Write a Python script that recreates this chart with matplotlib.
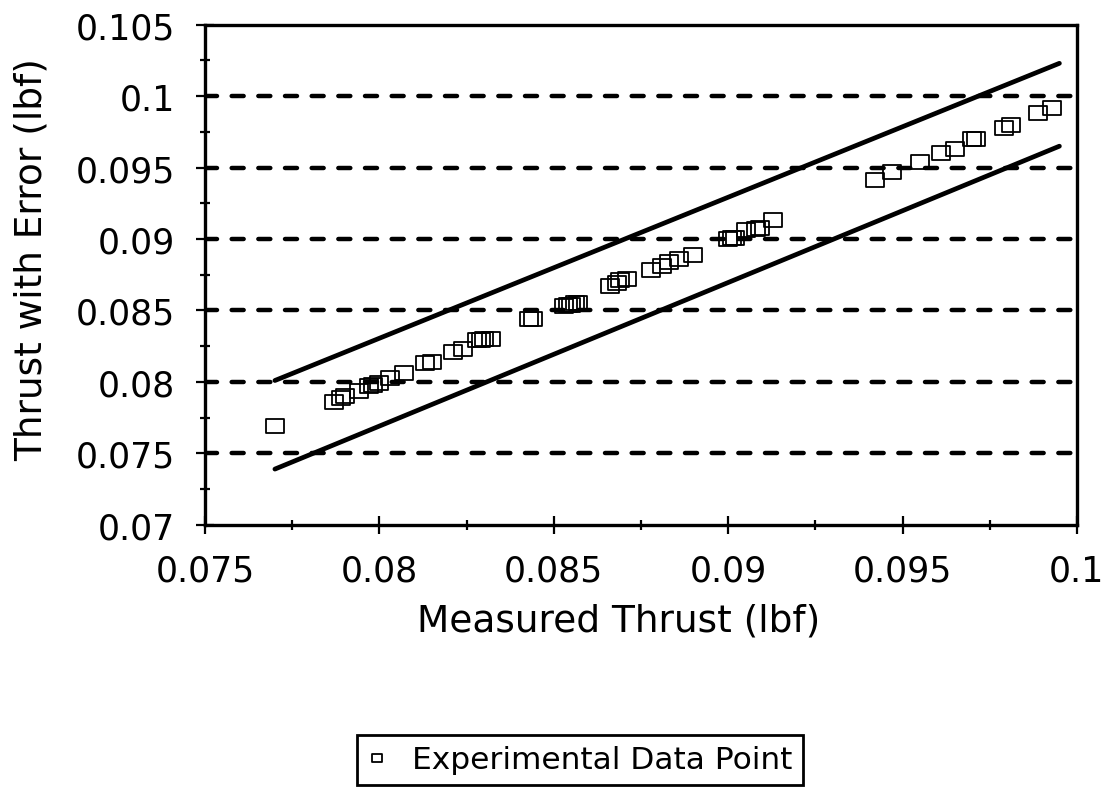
import numpy as np
import matplotlib
matplotlib.use("Agg")
import matplotlib.pyplot as plt
from matplotlib.path import Path
from matplotlib.ticker import MultipleLocator, FuncFormatter

# measured thrust vs thrust with error (lbf)
measured = [0.0770, 0.0787, 0.0789, 0.0790, 0.0794, 0.0797, 0.0798, 0.0800,
            0.0803, 0.0807, 0.0813, 0.0815, 0.0821, 0.0824, 0.0828, 0.0829,
            0.0830, 0.0832, 0.0843, 0.0844, 0.0853, 0.0854, 0.0855, 0.0856,
            0.0857, 0.0866, 0.0868, 0.0869, 0.0871, 0.0878, 0.0881, 0.0883,
            0.0886, 0.0890, 0.0900, 0.0901, 0.0902, 0.0905, 0.0908, 0.0909,
            0.0913, 0.0942, 0.0947, 0.0955, 0.0961, 0.0965, 0.0970, 0.0971,
            0.0979, 0.0981, 0.0989, 0.0993]
with_error = [0.0769, 0.0786, 0.0789, 0.0790, 0.0794, 0.0797, 0.0798, 0.0799,
              0.0803, 0.0806, 0.0813, 0.0814, 0.0821, 0.0823, 0.0829, 0.0829,
              0.0830, 0.0830, 0.0844, 0.0844, 0.0853, 0.0854, 0.0854, 0.0855,
              0.0855, 0.0867, 0.0869, 0.0871, 0.0872, 0.0878, 0.0881, 0.0884,
              0.0886, 0.0889, 0.0900, 0.0901, 0.0901, 0.0906, 0.0907, 0.0908,
              0.0913, 0.0941, 0.0947, 0.0954, 0.0960, 0.0963, 0.0970, 0.0970,
              0.0978, 0.0980, 0.0988, 0.0992]

# error band limits
band_x = [0.0770, 0.0995]
band_upper = [0.0801, 0.1023]
band_lower = [0.0739, 0.0965]

grid_levels = [0.075, 0.08, 0.085, 0.09, 0.095, 0.1]

plt.rcParams['font.family'] = ['DejaVu Sans']

fig = plt.figure(figsize=(11.09, 8.04), dpi=100)
ax = fig.add_axes([0.185, 0.346, 0.786, 0.622])

# dashed horizontal grid
for g in grid_levels:
    ax.axhline(g, color='black', lw=3.2, dashes=(2.7, 3.3), dash_capstyle='round',
               zorder=1)

ax.plot(band_x, band_upper, color='black', lw=3.4, solid_capstyle='round', zorder=2)
ax.plot(band_x, band_lower, color='black', lw=3.4, solid_capstyle='round', zorder=2)

# slightly wide open square marker
rect = Path([(-1, -0.75), (1, -0.75), (1, 0.75), (-1, 0.75), (-1, -0.75)],
            [Path.MOVETO, Path.LINETO, Path.LINETO, Path.LINETO, Path.CLOSEPOLY])
ax.plot(measured, with_error, linestyle='none', marker=rect, markersize=13,
        markerfacecolor='none', markeredgecolor='black', markeredgewidth=1.3,
        label='Experimental Data Point', zorder=3)

ax.set_xlim(0.075, 0.1)
ax.set_ylim(0.07, 0.105)
ax.xaxis.set_major_locator(MultipleLocator(0.005))
ax.xaxis.set_minor_locator(MultipleLocator(0.0025))
ax.yaxis.set_major_locator(MultipleLocator(0.005))
ax.yaxis.set_minor_locator(MultipleLocator(0.0025))
fmt = FuncFormatter(lambda v, p: ('%.3f' % v).rstrip('0').rstrip('.'))
ax.xaxis.set_major_formatter(fmt)
ax.yaxis.set_major_formatter(fmt)

ax.tick_params(which='major', direction='inout', length=13, width=1.6,
               labelsize=25)
ax.tick_params(which='minor', direction='inout', length=7, width=1.6)
ax.tick_params(axis='x', pad=14)
ax.tick_params(axis='y', pad=15)

for s in ['left', 'bottom', 'right', 'top']:
    ax.spines[s].set_linewidth(2.4)

ax.set_xlabel('Measured Thrust (lbf)', fontsize=27, labelpad=12)
ax.set_ylabel('Thrust with Error (lbf)', fontsize=27, labelpad=14)
ax.xaxis.set_label_coords(0.474, -0.155)
ax.yaxis.set_label_coords(-0.179, 0.532)

leg = fig.legend(loc='center', bbox_to_anchor=(0.523, 0.0535), fontsize=22.5,
                 markerscale=0.6, handlelength=0.6, handletextpad=0.8,
                 borderpad=0.35, fancybox=False, framealpha=1,
                 edgecolor='black')
leg.get_frame().set_linewidth(2)

fig.savefig('out.png', dpi=100)
